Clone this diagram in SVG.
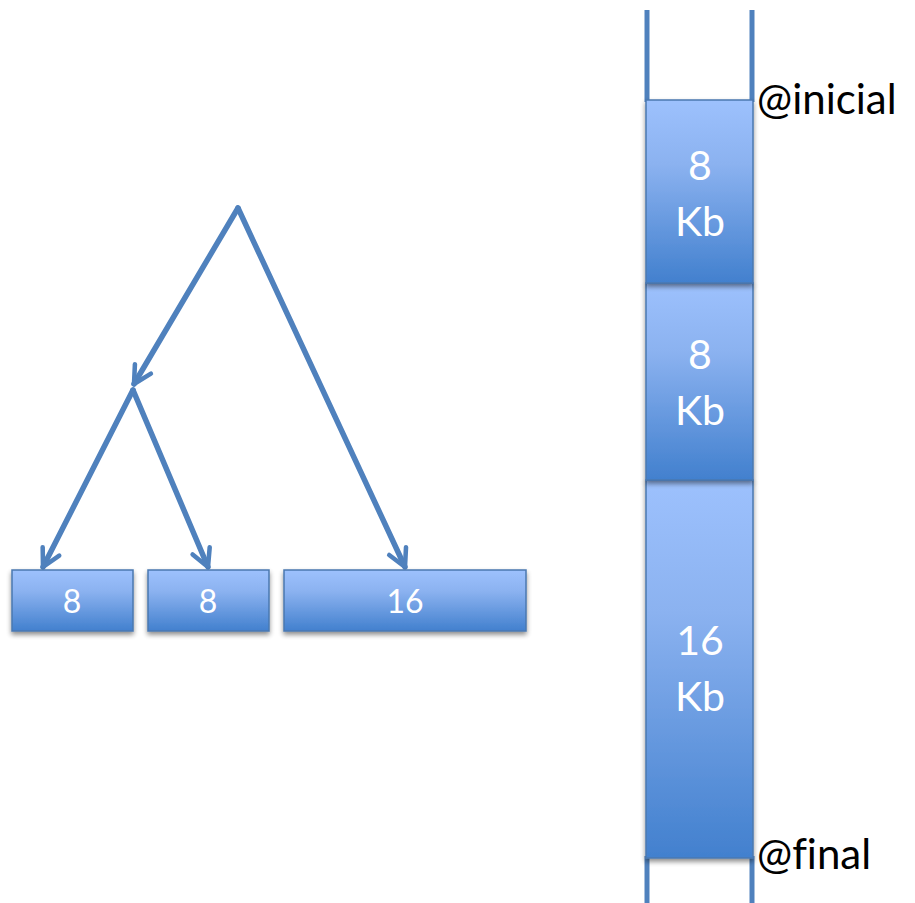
<svg xmlns="http://www.w3.org/2000/svg" width="915" height="903" viewBox="0 0 915 903">
  <defs>
    <linearGradient id="blockFill" x1="0" y1="0" x2="0" y2="1">
      <stop offset="0" stop-color="#9DC1FD"/>
      <stop offset="0.35" stop-color="#8BB2F0"/>
      <stop offset="1" stop-color="#4280CE"/>
    </linearGradient>
    <filter id="shadow" x="-10%" y="-10%" width="120%" height="130%">
      <feGaussianBlur in="SourceAlpha" stdDeviation="2.5"/>
      <feOffset dx="0" dy="3" result="b"/>
      <feComponentTransfer><feFuncA type="linear" slope="0.45"/></feComponentTransfer>
      <feMerge><feMergeNode/><feMergeNode in="SourceGraphic"/></feMerge>
    </filter>
    <marker id="arrow" viewBox="0 0 12 12" refX="10" refY="6" markerWidth="4.5" markerHeight="4.5" orient="auto" markerUnits="strokeWidth">
      <path d="M1.5,1.5 L10,6 L1.5,10.5" fill="none" stroke="#4F81BD" stroke-width="2.2" stroke-linecap="round" stroke-linejoin="round"/>
    </marker>
  </defs>
  <style>
    .block { fill: url(#blockFill); stroke: #4A78B0; stroke-width: 1.5; filter: url(#shadow); }
    .label { fill: #FFFFFF; font-family: Lato, "Open Sans", "Liberation Sans", sans-serif; text-anchor: middle; font-variant-ligatures: none; }
    .small { font-size: 32px; }
    .big { font-size: 41px; }
    .addr { fill: #000000; font-family: Lato, "Open Sans", "Liberation Sans", sans-serif; font-size: 42px; font-variant-ligatures: none; }
    .edge { fill: none; stroke: #4F81BD; stroke-width: 5.5; stroke-linecap: round; marker-end: url(#arrow); }
    .wall { fill: none; stroke: #4F81BD; stroke-width: 5; }
  </style>

  <!-- tree connectors -->
  <g id="connectors">
    <line class="edge" x1="238" y1="208" x2="134" y2="384"/>
    <line class="edge" x1="238" y1="208" x2="405" y2="567"/>
    <line class="edge" x1="133" y1="390" x2="43" y2="567"/>
    <line class="edge" x1="133" y1="390" x2="208" y2="567"/>
  </g>

  <!-- leaf blocks of the tree -->
  <g id="leaf-8a">
    <rect class="block" x="12" y="570" width="121" height="61"/>
    <text class="label small" x="72" y="613">8</text>
  </g>
  <g id="leaf-8b">
    <rect class="block" x="148" y="570" width="121" height="61"/>
    <text class="label small" x="208" y="613">8</text>
  </g>
  <g id="leaf-16">
    <rect class="block" x="284" y="570" width="242" height="61"/>
    <text class="label small" x="405" y="613">16</text>
  </g>

  <!-- memory column walls -->
  <g id="walls">
    <line class="wall" x1="647" y1="10" x2="647" y2="102"/>
    <line class="wall" x1="752" y1="10" x2="752" y2="102"/>
    <line class="wall" x1="647" y1="856" x2="647" y2="903"/>
    <line class="wall" x1="752" y1="856" x2="752" y2="903"/>
  </g>

  <!-- memory blocks -->
  <g id="mem-16">
    <rect class="block" x="646" y="480" width="107" height="378"/>
    <text class="label big" x="700" y="655">16</text>
    <text class="label big" x="700" y="711">Kb</text>
  </g>
  <g id="mem-8b">
    <rect class="block" x="646" y="283" width="107" height="197"/>
    <text class="label big" x="700" y="369">8</text>
    <text class="label big" x="700" y="425">Kb</text>
  </g>
  <g id="mem-8a">
    <rect class="block" x="646" y="100" width="107" height="183"/>
    <text class="label big" x="700" y="180">8</text>
    <text class="label big" x="700" y="236">Kb</text>
  </g>

  <g id="addr-start">
    <text class="addr" x="757" y="114">@inicial</text>
  </g>
  <g id="addr-end">
    <text class="addr" x="757" y="869">@final</text>
  </g>
</svg>
